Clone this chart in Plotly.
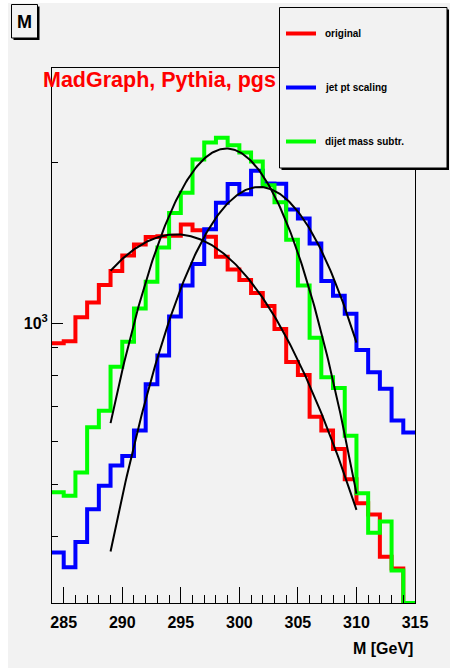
import numpy as np
import plotly.graph_objects as go

# ---------------- data ----------------
bin_low = 284          # first bin lower edge [GeV]
bin_width = 1          # GeV

original = [918, 925, 1026, 1094, 1179, 1252, 1339, 1404, 1450, 1455,
            1458, 1530, 1493, 1451, 1331, 1261, 1204, 1139, 1077, 976,
            846, 800, 669, 630, 582, 511, 461, 439, 366, 348, 285]
jet_pt_scaling = [373, 350, 390, 449, 497, 542, 565, 630, 769, 870,
                  1029, 1177, 1290, 1499, 1679, 1820, 1743, 1928, 1825, 1822,
                  1632, 1570, 1410, 1199, 1126, 1042, 891, 810, 754, 658, 625]
dijet_mass_subtr = [483, 476, 526, 639, 686, 829, 924, 1066, 1195, 1385,
                    1608, 1753, 2024, 2177, 2221, 2152, 2085, 2006, 1812, 1684,
                    1432, 1177, 940, 793, 757, 616, 481, 406, 426, 345, 285]

# Gaussian fit parameters (amplitude, mean, sigma, range)
fit_original = dict(amp=1466, mean=294.6, sigma=10.0, xmin=289, xmax=310)
fit_jet_pt = dict(amp=1798, mean=301.7, sigma=7.17, xmin=289, xmax=310)
fit_dijet = dict(amp=2121, mean=298.9, sigma=6.44, xmin=289, xmax=310)

series_names = ["original", "jet pt scaling", "dijet mass subtr."]
series_colors = ["#ff0000", "#0000ff", "#00ff00"]
x_tick_vals = [285, 290, 295, 300, 305, 310, 315]
y_minor_vals = [400, 500, 600, 700, 800, 900, 2000, 3000]
X_RANGE = [284, 315]
Y_MIN, Y_MAX = 300, 3000

# ---------------- layout geometry ----------------
W, H = 450, 669
ML, MR, MT, MB = 52, 35, 68, 66
PW, PH = W - ML - MR, H - MT - MB
BG = "#f2f2f2"
FONT = "Liberation Sans, Arial, Helvetica, sans-serif"


def px(x):
    return (x - ML) / PW


def py(y):
    return (MT + PH - y) / PH


fig = go.Figure()

edges = [bin_low + i * bin_width for i in range(len(original) + 1)]


def step_trace(vals, color, name):
    yv = [max(v, Y_MIN) for v in vals]
    yv = yv + [yv[-1]]
    return go.Scatter(x=edges, y=yv, mode="lines", line=dict(color=color, width=4, shape="hv"),
                      name=name, showlegend=False, hoverinfo="skip")


# draw order: red, blue, green
fig.add_trace(step_trace(original, series_colors[0], series_names[0]))
fig.add_trace(step_trace(jet_pt_scaling, series_colors[1], series_names[1]))
fig.add_trace(step_trace(dijet_mass_subtr, series_colors[2], series_names[2]))

for fp in (fit_original, fit_jet_pt, fit_dijet):
    xs = np.linspace(fp["xmin"], fp["xmax"], 200)
    ys = fp["amp"] * np.exp(-0.5 * ((xs - fp["mean"]) / fp["sigma"]) ** 2)
    fig.add_trace(go.Scatter(x=xs, y=ys, mode="lines", line=dict(color="black", width=2),
                             showlegend=False, hoverinfo="skip"))

shapes = []
annotations = []

# canvas background
shapes.append(dict(type="rect", xref="paper", yref="paper", layer="below",
                   x0=px(8), x1=px(452), y0=py(668), y1=py(3),
                   fillcolor=BG, line=dict(width=0)))

# title box "M" with shadow
shapes.append(dict(type="rect", xref="paper", yref="paper",
                   x0=px(13.5), x1=px(39.5), y0=py(40), y1=py(6.5),
                   fillcolor="black", line=dict(width=0)))
shapes.append(dict(type="rect", xref="paper", yref="paper",
                   x0=px(11.5), x1=px(37.5), y0=py(38), y1=py(4.5),
                   fillcolor=BG, line=dict(color="black", width=1)))
annotations.append(dict(text="<b>M</b>", x=px(24.5), y=py(22), xref="paper", yref="paper",
                        showarrow=False, xanchor="center", yanchor="middle",
                        font=dict(family=FONT, size=18, color="black")))

# legend box with shadow
LX0, LX1, LY0, LY1 = 279.5, 447, 7.5, 168
shapes.append(dict(type="rect", xref="paper", yref="paper",
                   x0=px(LX0 + 2), x1=px(LX1 + 2), y0=py(LY1 + 2), y1=py(LY0 + 2),
                   fillcolor="black", line=dict(width=0)))
shapes.append(dict(type="rect", xref="paper", yref="paper",
                   x0=px(LX0), x1=px(LX1), y0=py(LY1), y1=py(LY0),
                   fillcolor=BG, line=dict(color="black", width=1)))
leg_y = [33.5, 87.5, 141.5]
for name, col, yy in zip(series_names, series_colors, leg_y):
    shapes.append(dict(type="line", xref="paper", yref="paper",
                       x0=px(286), x1=px(316), y0=py(yy), y1=py(yy),
                       line=dict(color=col, width=4)))
    annotations.append(dict(text="<b>%s</b>" % name, x=px(323), y=py(yy), xref="paper", yref="paper",
                            showarrow=False, xanchor="left", yanchor="middle",
                            font=dict(family=FONT, size=10, color="black")))

# red label
annotations.append(dict(text="<b>MadGraph, Pythia, pgs</b>", x=px(159.5), y=py(80),
                        xref="paper", yref="paper", showarrow=False,
                        xanchor="center", yanchor="middle",
                        font=dict(family=FONT, size=21.5, color="#ff0000")))

# x-axis title
annotations.append(dict(text="<b>M [GeV]</b>", x=px(415), y=py(648),
                        xref="paper", yref="paper", showarrow=False,
                        xanchor="right", yanchor="middle",
                        font=dict(family=FONT, size=16, color="black")))

fig.update_layout(
    width=W, height=H,
    margin=dict(l=ML, r=MR, t=MT, b=MB, pad=0),
    paper_bgcolor="white", plot_bgcolor=BG,
    showlegend=False,
    shapes=shapes, annotations=annotations,
    font=dict(family=FONT, color="black"),
)

fig.update_xaxes(
    range=X_RANGE, showgrid=False, zeroline=False,
    showline=True, linecolor="black", linewidth=1, mirror=True,
    ticks="inside", ticklen=16, tickcolor="black", tickwidth=1,
    tickmode="array", tickvals=x_tick_vals, ticktext=["<b>%d</b>" % v for v in x_tick_vals],
    tickfont=dict(family=FONT, size=16, color="black"),
    ticklabelstandoff=5,
    minor=dict(ticks="inside", ticklen=8, tickcolor="black", tickwidth=1, dtick=1, tick0=284, showgrid=False),
)

fig.update_yaxes(
    type="log", range=[np.log10(Y_MIN), np.log10(Y_MAX)], showgrid=False, zeroline=False,
    showline=True, linecolor="black", linewidth=1, mirror=True,
    ticks="inside", ticklen=11, tickcolor="black", tickwidth=1,
    tickmode="array", tickvals=[1000], ticktext=["<b>10<sup>3</sup></b>"],
    tickfont=dict(family=FONT, size=16, color="black"),
    minor=dict(ticks="inside", ticklen=6, tickcolor="black", tickwidth=1,
               tickmode="array", tickvals=y_minor_vals, showgrid=False),
)

fig.write_html("out.html", config={"displayModeBar": False, "staticPlot": True},
               post_script="document.body.style.margin='0px';")
